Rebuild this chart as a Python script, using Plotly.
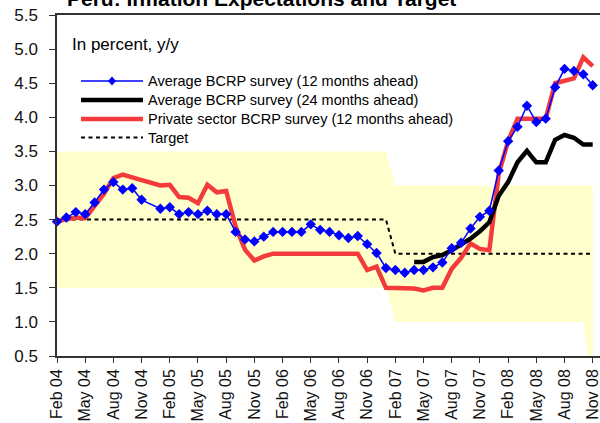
import plotly.graph_objects as go

# ---------------- data ----------------
month_names = ["Jan", "Feb", "Mar", "Apr", "May", "Jun", "Jul", "Aug", "Sep", "Oct", "Nov", "Dec"]
categories = []
for yr in range(4, 9):
    for m in month_names:
        categories.append(f"{m} {yr:02d}")
categories = categories[1:59]          # Feb 04 ... Dec 08 (59 months)
n_obs = 58                             # observations run Feb 04 ... Nov 08

tick_labels = ["Feb 04", "May 04", "Aug 04", "Nov 04", "Feb 05", "May 05", "Aug 05", "Nov 05",
               "Feb 06", "May 06", "Aug 06", "Nov 06", "Feb 07", "May 07", "Aug 07", "Nov 07",
               "Feb 08", "May 08", "Aug 08", "Nov 08"]

avg_12m = [2.47, 2.53, 2.61, 2.58, 2.75, 2.94, 3.05, 2.94, 2.96, 2.79,
           None, 2.66, 2.68, 2.58, 2.61, 2.58, 2.63, 2.58, 2.58, 2.32,
           2.21, 2.18, 2.25, 2.32, 2.32, 2.32, 2.32, 2.43, 2.35, 2.32,
           2.27, 2.23, 2.26, 2.14, 2.01, 1.79, 1.76, 1.72, 1.76, 1.76,
           1.80, 1.87, 2.08, 2.16, 2.37, 2.54, 2.63, 3.22, 3.65, 3.86,
           4.17, 3.93, 3.98, 4.44, 4.71, 4.68, 4.63, 4.47]

avg_24m = [None] * 38 + [1.88, 1.88, 1.95, 1.98, 2.05, 2.13, 2.22, 2.33, 2.46, 2.85,
                         3.05, 3.34, 3.51, 3.34, 3.34, 3.67, 3.74, 3.70, 3.60, 3.60]

private_12m = [2.48, 2.50, 2.53, 2.52, 2.71, 2.88, 3.11, 3.16, 3.12, 3.08,
               3.04, 3.00, 3.01, 2.83, 2.82, 2.74, 3.01, 2.90, 2.92, 2.40,
               2.06, 1.90, 1.96, 2.00, 2.00, 2.00, 2.00, 2.00, 2.00, 2.00,
               2.00, 2.00, 2.00, 1.76, 1.81, 1.50, 1.50, 1.50, 1.49, 1.46,
               1.50, 1.50, 1.78, 1.94, 2.15, 2.07, 2.05, 3.17, 3.65, 3.98,
               3.98, 3.98, 3.98, 4.50, 4.53, 4.57, 4.88, 4.75]

target = [2.5] * 36 + [2.0] * 22

band_low = [1.5] * 36 + [1.0] * 21 + [0.0, 0.0]
band_high = [3.5] * 36 + [3.0] * 23

x_obs = list(range(n_obs))
x_band = list(range(len(categories)))
tick_pos = [categories.index(t) for t in tick_labels]

# ---------------- layout geometry (pixels) ----------------
W, H = 600, 423
L, R, T, B = 57, 600, 15, 356


def px(x):
    return (x - L) / (R - L)


def py(y):
    return (B - y) / (B - T)


FONT = "Liberation Sans, Arial, sans-serif"
BLUE = "#0000FF"
RED = "#F43A3A"
YELLOW = "#FFFFCC"

fig = go.Figure()

# target band
fig.add_trace(go.Scatter(x=x_band, y=band_low, mode="lines", line=dict(width=0, color=YELLOW),
                         hoverinfo="skip", showlegend=False))
fig.add_trace(go.Scatter(x=x_band, y=band_high, mode="lines", line=dict(width=0, color=YELLOW),
                         fill="tonexty", fillcolor=YELLOW, hoverinfo="skip", showlegend=False))

# target
fig.add_trace(go.Scatter(x=x_obs, y=target, mode="lines",
                         line=dict(color="black", width=2, dash="4px,3.5px"),
                         name="Target", showlegend=False))
# private sector
fig.add_trace(go.Scatter(x=x_obs, y=private_12m, mode="lines",
                         line=dict(color=RED, width=4.5),
                         name="Private sector BCRP survey (12 months ahead)", showlegend=False))
# 24 months
fig.add_trace(go.Scatter(x=x_obs, y=avg_24m, mode="lines",
                         line=dict(color="black", width=4.5),
                         name="Average BCRP survey (24 months ahead)", showlegend=False))
# 12 months
fig.add_trace(go.Scatter(x=x_obs, y=avg_12m, mode="lines+markers", connectgaps=True,
                         line=dict(color=BLUE, width=1.5),
                         marker=dict(symbol="diamond", size=8, color=BLUE),
                         cliponaxis=False,
                         name="Average BCRP survey (12 months ahead)", showlegend=False))

# ---------------- manual legend ----------------
legend_rows = [
    ("Average BCRP survey (12 months ahead)", 81, dict(color=BLUE, width=1.5), True),
    ("Average BCRP survey (24 months ahead)", 100, dict(color="black", width=4.5), False),
    ("Private sector BCRP survey (12 months ahead)", 119, dict(color=RED, width=4.5), False),
    ("Target", 137.5, dict(color="black", width=2, dash="4px,3.5px"), False),
]
shapes = []
annotations = []
for label, yrow, line_style, has_marker in legend_rows:
    shapes.append(dict(type="line", xref="paper", yref="paper",
                       x0=px(81), x1=px(143), y0=py(yrow), y1=py(yrow), line=line_style))
    if has_marker:
        shapes.append(dict(type="path", xref="paper", yref="paper",
                           xsizemode="pixel", ysizemode="pixel",
                           xanchor=px(112), yanchor=py(yrow),
                           path="M -4 0 L 0 4.5 L 4 0 L 0 -4.5 Z",
                           fillcolor=BLUE, line=dict(width=0)))
    annotations.append(dict(text=label, xref="paper", yref="paper", x=px(146), y=py(yrow),
                            xanchor="left", yanchor="middle", showarrow=False,
                            font=dict(family=FONT, size=14.5, color="black")))

annotations.append(dict(text="In percent, y/y", xref="paper", yref="paper", x=px(70), y=py(44),
                        xanchor="left", yanchor="middle", showarrow=False,
                        font=dict(family=FONT, size=17, color="black")))
annotations.append(dict(text="<b>Peru: Inflation Expectations and Target</b>", xref="paper", yref="paper",
                        x=px(261), y=py(-2), xanchor="center", yanchor="middle", showarrow=False,
                        font=dict(family=FONT, size=21, color="black")))

scale = (592.7 - L) / (n_obs - 1)
x_end = (R - L) / scale

fig.update_layout(
    width=W, height=H,
    margin=dict(l=L, r=W - R, t=T, b=H - B, autoexpand=False),
    plot_bgcolor="white", paper_bgcolor="white",
    showlegend=False,
    shapes=shapes,
    annotations=annotations,
    xaxis=dict(range=[0, x_end], tickvals=tick_pos, ticktext=tick_labels, tickangle=-90,
               automargin=False, ticklabeloverflow="allow",
               showgrid=False, zeroline=False, showline=True, mirror=True,
               linecolor="#333333", linewidth=1.5,
               ticks="outside", ticklen=5, tickwidth=1, tickcolor="#333333",
               tickfont=dict(family=FONT, size=16, color="#111111"), ticklabelstandoff=0),
    yaxis=dict(range=[0.5, 5.5], dtick=0.5, tickformat=".1f", automargin=False,
               showgrid=False, zeroline=False, showline=True,
               linecolor="#333333", linewidth=1.5,
               ticks="outside", ticklen=6, tickwidth=1, tickcolor="#333333",
               tickfont=dict(family=FONT, size=17, color="#111111"), ticklabelstandoff=8),
)

fig.write_html("out.html", config={"displayModeBar": False},
               post_script="document.body.style.margin='0';document.body.style.overflow='hidden';")
